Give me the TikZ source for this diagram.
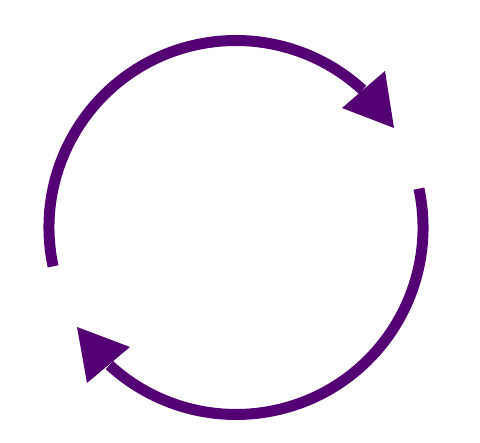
\documentclass[tikz,border=0pt]{standalone}
\definecolor{cyclepurple}{RGB}{84,0,116}
\begin{document}
\begin{tikzpicture}[x=1pt,y=1pt,
  cyclearc/.style={draw=cyclepurple,line width=11pt,line cap=butt},
  cyclehead/.style={fill=cyclepurple,draw=none}]
\useasboundingbox (0,0) rectangle (480,443);
\coordinate (C) at (236,215.5);
% upper arrow: from the left side over the top to the upper right
\draw[cyclearc] (C) ++(192:187) arc[start angle=192,end angle=47.4,radius=187];
\coordinate (ha) at (342,335);
\coordinate (hb) at (385,372);
\coordinate (ht) at (394,315);
\fill[cyclehead] (ha) -- (hb) -- (ht) -- cycle;
% lower arrow: from the right side under the bottom to the lower left
\draw[cyclearc] (C) ++(12:187) arc[start angle=12,end angle=-132.6,radius=187];
\coordinate (la) at (130,96);
\coordinate (lb) at (87,60);
\coordinate (lt) at (77,116);
\fill[cyclehead] (la) -- (lb) -- (lt) -- cycle;
\end{tikzpicture}
\end{document}
